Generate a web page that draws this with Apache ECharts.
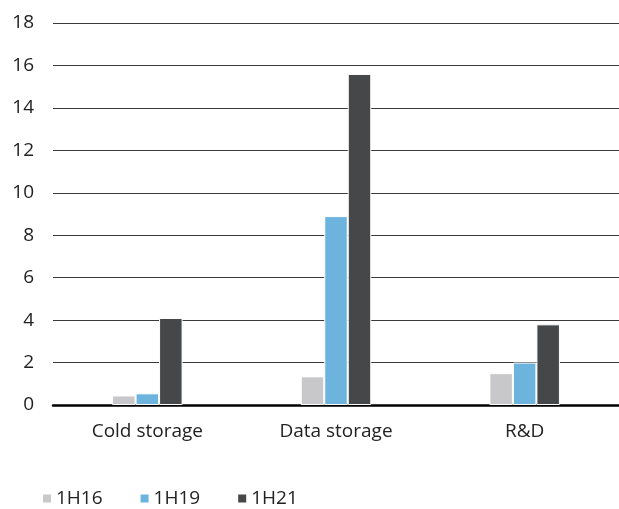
<!DOCTYPE html>
<html>
<head>
<meta charset="utf-8">
<script src="https://cdn.jsdelivr.net/npm/echarts@6/dist/echarts.min.js"></script>
<style>
  html, body { margin: 0; padding: 0; background: #fff; }
  #chart { width: 619px; height: 509px; }
</style>
</head>
<body>
<div id="chart"></div>
<script>
const categories = ['Cold storage', 'Data storage', 'R&D'];
const seriesNames = ['1H16', '1H19', '1H21'];
const values1H16 = [0.45, 1.35, 1.5];
const values1H19 = [0.55, 8.9, 2.0];
const values1H21 = [4.1, 15.6, 3.8];
const colors = ['#c8c8ca', '#6cb4de', '#464749'];

const font = '"Open Sans", "Noto Sans", sans-serif';
const seriesValues = [values1H16, values1H19, values1H21];

const chart = echarts.init(document.getElementById('chart'));
chart.setOption({
  animation: false,
  textStyle: { fontFamily: font },
  grid: { left: 53, right: 0, top: 23, bottom: 104 },
  legend: {
    left: 36,
    top: 484,
    itemWidth: 10,
    itemHeight: 10,
    itemGap: 36,
    icon: 'rect',
    textStyle: { fontSize: 19, color: '#222', fontFamily: font, padding: [0, 0, 0, -1] },
    data: seriesNames
  },
  xAxis: {
    type: 'category',
    data: categories,
    axisLine: { lineStyle: { color: '#000', width: 2.5 } },
    axisTick: { show: false },
    axisLabel: { fontSize: 19, color: '#222', margin: 17, fontFamily: font }
  },
  yAxis: {
    type: 'value',
    min: 0,
    max: 18,
    interval: 2,
    axisLine: { show: false },
    axisTick: { show: false },
    axisLabel: { fontSize: 19, color: '#222', margin: 19, fontFamily: font },
    splitLine: { lineStyle: { color: '#3a3a3a', width: 1.2 } }
  },
  series: seriesNames.map((name, i) => ({
    name: name,
    type: 'bar',
    data: seriesValues[i],
    barWidth: 23.5,
    barGap: '0%',
    itemStyle: { color: colors[i], borderColor: '#fff', borderWidth: 1 }
  }))
});
</script>
</body>
</html>
